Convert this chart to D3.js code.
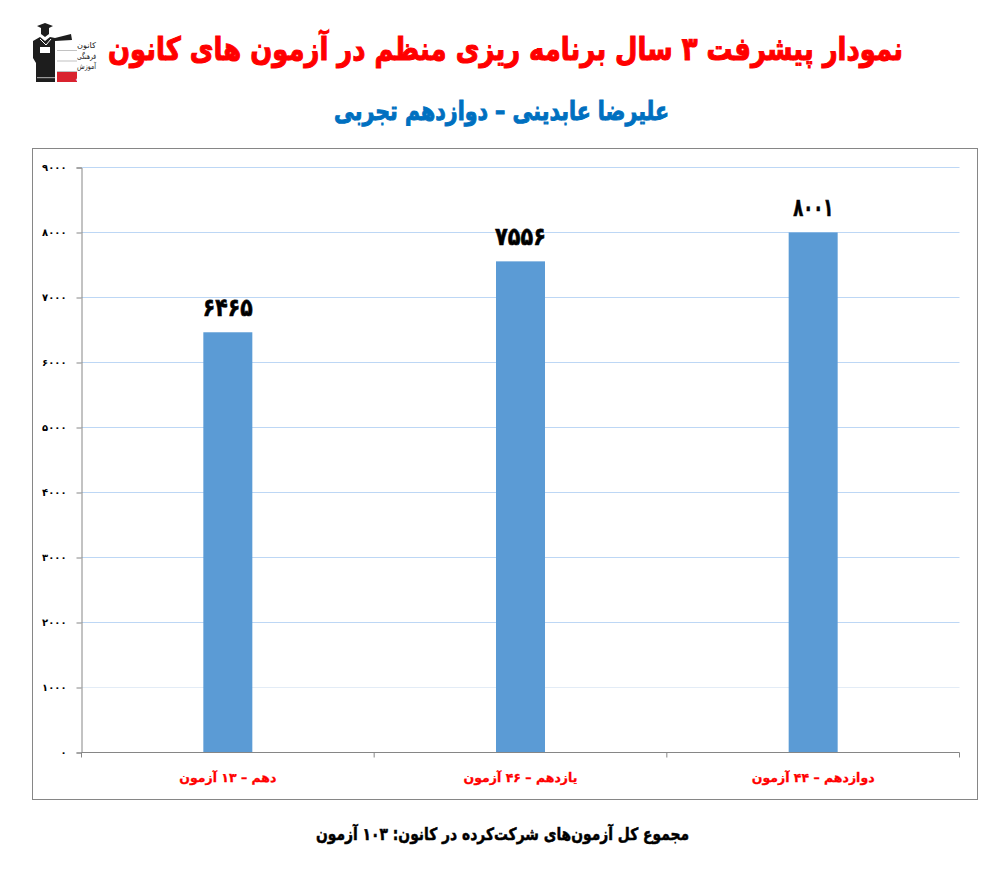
<!DOCTYPE html>
<html>
<head>
<meta charset="utf-8">
<script src="https://cdn.jsdelivr.net/npm/d3@7"></script>
<style>
  html, body { margin: 0; padding: 0; background: #fff; }
  text { font-family: "DejaVu Sans", "Noto Sans", sans-serif; font-weight: bold; }
</style>
</head>
<body>
<div id="chart"></div>
<script>
var categories = ["دهم – ۱۳ آزمون", "یازدهم – ۴۶ آزمون", "دوازدهم – ۴۴ آزمون"];
var values = [6465, 7556, 8001];
var valueLabels = ["۶۴۶۵", "۷۵۵۶", "۸۰۰۱"];
var yTicks = [0, 1000, 2000, 3000, 4000, 5000, 6000, 7000, 8000, 9000];
var yTickLabels = ["۰", "۱۰۰۰", "۲۰۰۰", "۳۰۰۰", "۴۰۰۰", "۵۰۰۰", "۶۰۰۰", "۷۰۰۰", "۸۰۰۰", "۹۰۰۰"];

var titleText = "نمودار پیشرفت ۳ سال برنامه ریزی منظم در آزمون های کانون";
var subtitleText = "علیرضا عابدینی – دوازدهم تجربی";
var footerText = "مجموع کل آزمون‌های شرکت‌کرده در کانون:  ۱۰۳ آزمون";

var width = 991, height = 873;

var svg = d3.select("#chart").append("svg")
  .attr("width", width)
  .attr("height", height)
  .style("display", "block");

// squeeze a text to the width it has in the picture
function fit(sel, w) {
  sel.attr("textLength", w).attr("lengthAdjust", "spacingAndGlyphs");
  return sel;
}

fit(svg.append("text")
  .attr("x", 505.5).attr("y", 60)
  .attr("text-anchor", "middle").attr("direction", "rtl")
  .attr("fill", "#ff0000").attr("stroke", "#ff0000").attr("stroke-width", 1.1)
  .attr("font-size", 32)
  .text(titleText), 795);

fit(svg.append("text")
  .attr("x", 501.5).attr("y", 120)
  .attr("text-anchor", "middle").attr("direction", "rtl")
  .attr("fill", "#0070c0").attr("stroke", "#0070c0").attr("stroke-width", 1)
  .attr("font-size", 26)
  .text(subtitleText), 335);

// logo, roughly
var logo = svg.append("g").attr("transform", "translate(33,23)");
logo.append("path")
  .attr("d", "M4 3 L12 0 L20 3 L16 5 L16 11 L12 14 L8 11 L8 5 Z")
  .attr("fill", "#1d1d1d");
logo.append("path")
  .attr("d", "M0 18 L7 14 L12 18 L17 14 L22 15 L38 11 L39 17 L22 18 L22 59 L3 59 L3 40 L0 35 Z")
  .attr("fill", "#1d1d1d");
logo.append("path").attr("d", "M7 16 L13 22 L18 16").attr("fill", "none").attr("stroke", "#fff").attr("stroke-width", 1);
logo.append("rect").attr("x", 7).attr("y", 24).attr("width", 10).attr("height", 6).attr("fill", "#fff");
logo.append("rect").attr("x", 4).attr("y", 54).attr("width", 18).attr("height", 1.2).attr("fill", "#999");
logo.append("rect").attr("x", 24).attr("y", 49).attr("width", 20).attr("height", 10).attr("fill", "#d9232e");
["کانون", "فرهنگی", "آموزش"].forEach(function(t, i) {
  fit(logo.append("text").attr("x", 44).attr("y", 25 + i * 10.5)
    .attr("text-anchor", "end").attr("direction", "rtl")
    .attr("font-size", 8).style("font-weight", "normal").attr("fill", "#222").text(t), 19);
  logo.append("line").attr("x1", 24).attr("x2", 44).attr("y1", 27.5 + i * 10.5).attr("y2", 27.5 + i * 10.5)
    .attr("stroke", "#999").attr("stroke-width", 0.6);
});
fit(logo.append("text").attr("x", 43).attr("y", 57)
  .attr("text-anchor", "end").attr("direction", "rtl")
  .attr("font-size", 7).attr("fill", "#fff").text("قلم چی"), 17);

// chart frame
svg.append("rect")
  .attr("x", 32.5).attr("y", 148.5)
  .attr("width", 945).attr("height", 651)
  .attr("fill", "#fff").attr("stroke", "#868686").attr("stroke-width", 1);

var x = d3.scaleBand().domain(categories).range([81.5, 959.5]);
var y = d3.scaleLinear().domain([0, 9000]).range([752.5, 167.5]);

// gridlines
svg.append("g").selectAll("line")
  .data(yTicks.slice(1))
  .enter().append("line")
  .attr("x1", 81.5).attr("x2", 959.5)
  .attr("y1", function(d) { return y(d); })
  .attr("y2", function(d) { return y(d); })
  .attr("stroke", function(d) { return d == 1000 ? "#e3ecf6" : "#bdd7f5"; })
  .attr("stroke-width", 1);

// bars
var barWidth = 49;
svg.append("g").selectAll("rect")
  .data(values)
  .enter().append("rect")
  .attr("x", function(d, i) { return x(categories[i]) + x.bandwidth() / 2 - barWidth / 2; })
  .attr("y", function(d) { return y(d); })
  .attr("width", barWidth)
  .attr("height", function(d) { return y(0) - y(d); })
  .attr("fill", "#5b9bd5");

// value labels
var labelWidths = [50, 51, 40];
svg.append("g").selectAll("text")
  .data(values)
  .enter().append("text")
  .attr("x", function(d, i) { return x(categories[i]) + x.bandwidth() / 2; })
  .attr("y", function(d) { return y(d) - 16; })
  .attr("text-anchor", "middle")
  .attr("font-size", 25)
  .attr("fill", "#000").attr("stroke", "#000").attr("stroke-width", 0.6)
  .attr("textLength", function(d, i) { return labelWidths[i]; })
  .attr("lengthAdjust", "spacingAndGlyphs")
  .text(function(d, i) { return valueLabels[i]; });

// y axis
var yAxis = d3.axisLeft(y)
  .tickValues(yTicks)
  .tickSize(5)
  .tickPadding(10)
  .tickFormat(function(d, i) { return yTickLabels[i]; });
var yG = svg.append("g").attr("transform", "translate(81.5,0)").call(yAxis);
yG.selectAll("path, line").attr("stroke", "#868686");
yG.selectAll("text").attr("font-size", 10).attr("fill", "#000")
  .style("font-family", "'DejaVu Sans'");

// x axis, ticks sit on the category boundaries
var xEdges = categories.map(function(c) { return x(c); }).concat([x.range()[1]]);
var xG = svg.append("g");
xG.append("line")
  .attr("x1", 81.5).attr("x2", 959.5).attr("y1", y(0)).attr("y2", y(0))
  .attr("stroke", "#868686");
xG.selectAll("line.tick")
  .data(xEdges)
  .enter().append("line").attr("class", "tick")
  .attr("x1", function(d) { return d; }).attr("x2", function(d) { return d; })
  .attr("y1", y(0)).attr("y2", y(0) + 5)
  .attr("stroke", "#868686");
xG.selectAll("text")
  .data(categories)
  .enter().append("text")
  .attr("x", function(d) { return x(d) + x.bandwidth() / 2; })
  .attr("y", 782)
  .attr("text-anchor", "middle").attr("direction", "rtl")
  .attr("font-size", 12.5)
  .attr("fill", "#ff0000").attr("stroke", "#ff0000").attr("stroke-width", 0.3)
  .text(function(d) { return d; });

fit(svg.append("text")
  .attr("x", 502.5).attr("y", 840)
  .attr("text-anchor", "middle").attr("direction", "rtl")
  .attr("font-size", 17)
  .attr("fill", "#000").attr("stroke", "#000").attr("stroke-width", 0.5)
  .text(footerText), 373);
</script>
</body>
</html>
